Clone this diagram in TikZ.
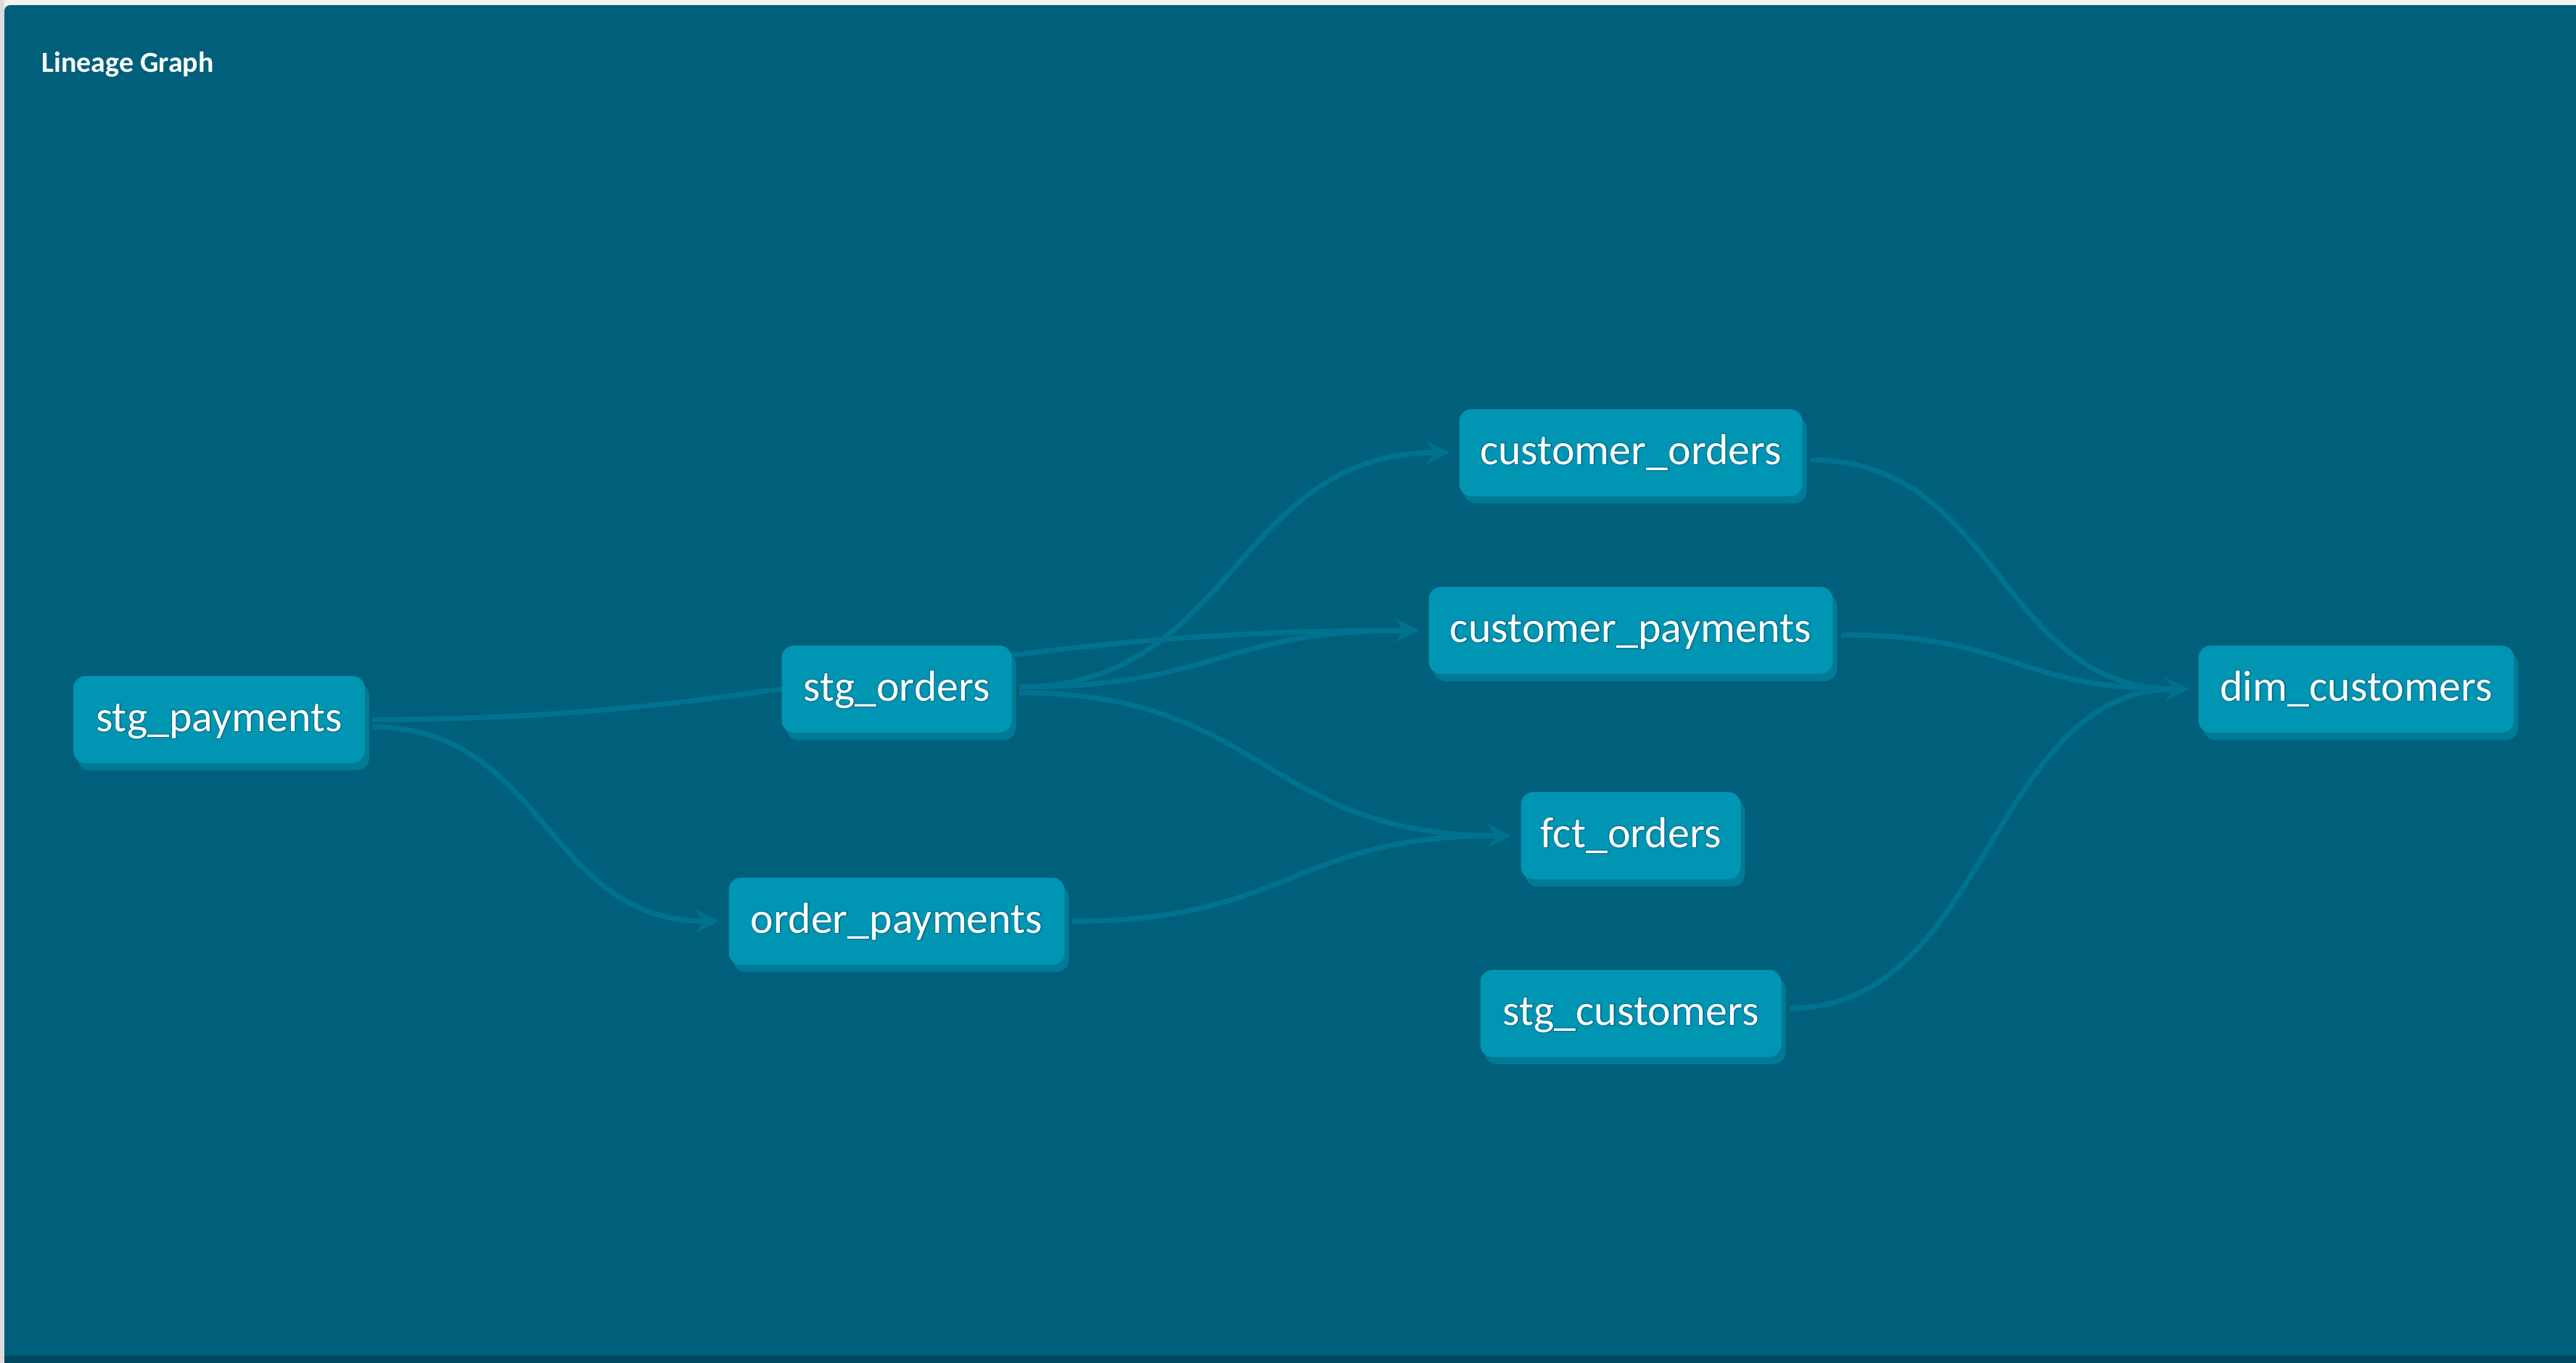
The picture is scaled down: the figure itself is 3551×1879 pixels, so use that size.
\documentclass[tikz,border=0pt]{standalone}
\usepackage{fontspec}
\setmainfont{Carlito}
\newfontfamily\lblfont{Carlito}
\newfontfamily\lbloutfont{Carlito}[FakeBold=4]
\usetikzlibrary{arrows.meta,shadows,calc}
\definecolor{panel}{HTML}{005F7A}
\definecolor{outside}{HTML}{F2F2F2}
\definecolor{outsideL}{HTML}{DCDCDC}
\definecolor{strip}{HTML}{00485F}
\definecolor{nodefill}{HTML}{0095B3}
\definecolor{nodeshadow}{HTML}{007A96}
\definecolor{edgecol}{HTML}{00728F}
\definecolor{txtout}{HTML}{00708C}
\pgfdeclarelayer{bg}
\pgfdeclarelayer{edges}
\pgfsetlayers{bg,edges,main}
\newcommand\modeltext[1]{\rlap{\textcolor{txtout}{\lbloutfont #1}}#1}
\begin{document}
\begin{tikzpicture}[x=0.5pt,y=-0.5pt,
  model/.style={rectangle, rounded corners=8.5pt, fill=nodefill, minimum height=60pt,
    inner sep=0pt, text height=23pt, text depth=7pt, text=white,
    font={\lblfont\fontsize{30pt}{36pt}\selectfont},
    general shadow={shadow xshift=3pt, shadow yshift=-5pt, fill=nodeshadow}},
  link/.style={draw=edgecol, line width=3.5pt,
    -{Stealth[length=16pt,width=16pt,inset=5.5pt]}}]
\useasboundingbox (0,0) rectangle (3551,1879);
\begin{pgfonlayer}{bg}
  \fill[outside] (0,0) rectangle (3551,1879);
  \fill[outsideL] (0,0) rectangle (6,1879);
  \fill[panel] (6,1879) [rounded corners=4pt] -- (6,7) [sharp corners] -- (3551,7) -- (3551,1879) -- cycle;
  \fill[strip] (6,1869) rectangle (3551,1879);
\end{pgfonlayer}

\node[anchor=base west, text=white, inner sep=0pt,
  font={\bfseries\fontsize{20pt}{24pt}\selectfont}] (title) at (57,99) {Lineage Graph};

\node[model, minimum width=201pt]   (sp) at (302,992)   {\modeltext{stg\_payments}};
\node[model, minimum width=158.5pt] (so) at (1236,950)  {\modeltext{stg\_orders}};
\node[model, minimum width=231.5pt] (op) at (1236,1270) {\modeltext{order\_payments}};
\node[model, minimum width=236.5pt] (co) at (2248,624)  {\modeltext{customer\_orders}};
\node[model, minimum width=278.5pt] (cp) at (2248,869)  {\modeltext{customer\_payments}};
\node[model, minimum width=151.5pt] (fo) at (2248,1152) {\modeltext{fct\_orders}};
\node[model, minimum width=207.5pt] (sc) at (2248,1397) {\modeltext{stg\_customers}};
\node[model, minimum width=217.5pt] (dc) at (3248,950)  {\modeltext{dim\_customers}};

\begin{pgfonlayer}{edges}
  \draw[link] ($(sp.east)+(10,0)$) .. controls +(587,0) and +(-659,0) .. ($(cp.west)+(-13,0)$);
  \draw[link] ($(sp.east)+(10,10)$) .. controls +(239,0) and +(-239,0) .. ($(op.west)+(-13,0)$);
  \draw[link] ($(so.east)+(10,-3)$) .. controls +(297,0) and +(-297,0) .. ($(co.west)+(-13,0)$);
  \draw[link] ($(so.east)+(10,-3)$) .. controls +(276,0) and +(-276,0) .. ($(cp.west)+(-13,0)$);
  \draw[link] ($(so.east)+(10,5)$) .. controls +(340,0) and +(-340,0) .. ($(fo.west)+(-13,0)$);
  \draw[link] ($(op.east)+(10,0)$) .. controls +(303,0) and +(-303,0) .. ($(fo.west)+(-13,0)$);
  \draw[link] ($(co.east)+(11,10)$) .. controls +(261,0) and +(-261,0) .. ($(dc.west)+(-13,0)$);
  \draw[link] ($(cp.east)+(11,6)$) .. controls +(240,0) and +(-240,0) .. ($(dc.west)+(-13,0)$);
  \draw[link] ($(sc.east)+(11,-7)$) .. controls +(275,0) and +(-275,0) .. ($(dc.west)+(-13,0)$);
\end{pgfonlayer}
\end{tikzpicture}
\end{document}
